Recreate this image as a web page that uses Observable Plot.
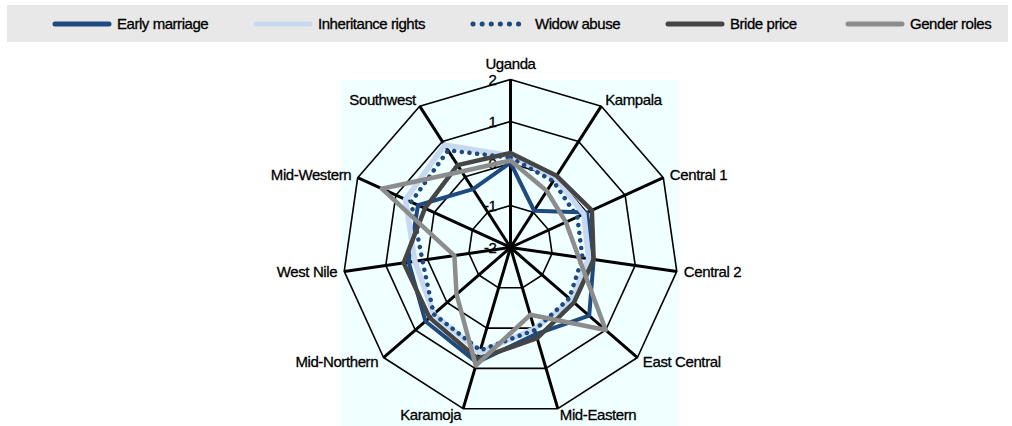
<!DOCTYPE html>
<html>
<head>
<meta charset="utf-8">
<script src="https://cdn.jsdelivr.net/npm/d3@7"></script>
<script src="https://cdn.jsdelivr.net/npm/@observablehq/plot@0.6"></script>
<style>
  html, body { margin: 0; padding: 0; background: #ffffff; }
  body { width: 1012px; height: 426px; overflow: hidden; font-family: "Liberation Sans", Arial, sans-serif; }
  #legend { position: relative; width: 1012px; height: 47px; }
  #legend .band { position: absolute; left: 7px; top: 5px; width: 1001px; height: 37px; background: #e8e8e8; }
  #legend .item { position: absolute; top: 5px; height: 37px; display: flex; align-items: center; font-size: 15px; letter-spacing: -0.45px; color: #000; -webkit-text-stroke: 0.3px #000; }
  #legend svg { display: block; margin-right: 5px; }
  #chart svg text { letter-spacing: -0.4px; stroke: #000; stroke-width: 0.3px; }
</style>
</head>
<body>
<div id="legend"><div class="band"></div></div>
<div id="chart"></div>
<script>
(function () {
// ---- data ----
const categories = ["Uganda", "Kampala", "Central 1", "Central 2", "East Central", "Mid-Eastern",
                    "Karamoja", "Mid-Northern", "West Nile", "Mid-Western", "Southwest"];
const seriesNames = ["Early marriage", "Inheritance rights", "Widow abuse", "Bride price", "Gender roles"];
const earlyMarriage     = [0.02, -0.96, 0.00, 0.00, 0.48, 0.15, 0.85, 0.68, 0.45, 0.42, -0.35];
const inheritanceRights = [0.18, -0.03, -0.08, -0.12, -0.08, 0.02, 0.60, 0.42, 0.30, 0.75, 0.90];
const widowAbuse        = [0.14, -0.12, -0.25, -0.27, -0.15, 0.05, 0.55, 0.42, 0.12, 0.60, 0.75];
const bridePrice        = [0.25, 0.03, 0.13, 0.00, 0.00, 0.25, 0.76, 0.55, 0.57, 0.24, 0.33];
const genderRoles       = [0.07, -0.40, -0.55, -0.36, 1.00, -0.33, 0.93, -0.30, -0.65, 1.37, 0.15];
const tickValues = [2, 1, 0, -1, -2];
const tickLabels = ["2", "1", "0", "-1", "-2"];
const axisMin = -2, axisMax = 2;

// ---- styles ----
const styles = [
  {stroke: "#1f4a7f", strokeWidth: 4},
  {stroke: "#c6d9f1", strokeWidth: 5.5},
  {stroke: "#1f4a7f", strokeWidth: 4.5, strokeDasharray: "0.1 7.6", strokeLinecap: "round"},
  {stroke: "#454545", strokeWidth: 4.5},
  {stroke: "#8c8c8c", strokeWidth: 4.5}
];
const seriesValues = [earlyMarriage, inheritanceRights, widowAbuse, bridePrice, genderRoles];

// ---- polar helpers (data space) ----
const n = categories.length;
const ang = i => i * 2 * Math.PI / n;
const rad = v => v - axisMin;
const px = (i, v) => rad(v) * Math.sin(ang(i));
const py = (i, v) => rad(v) * Math.cos(ang(i));

const seriesRows = seriesValues.map((vals, s) =>
  vals.map((v, i) => ({series: seriesNames[s], i, v, x: px(i, v), y: py(i, v)})));

const ringRows = [];
for (const lv of tickValues.filter(t => t > axisMin)) {
  categories.forEach((c, i) => ringRows.push({level: lv, x: px(i, lv), y: py(i, lv)}));
}
const spokeRows = categories.map((c, i) => ({x2: px(i, axisMax), y2: py(i, axisMax)}));
const labelOff = 0.17;
const labelRows = categories.map((c, i) => ({
  name: c, i,
  x: px(i, axisMax + labelOff),
  y: py(i, axisMax + labelOff)
}));
const tickRows = tickValues.map((t, k) => ({label: tickLabels[k], x: 0, y: rad(t)}));

// ---- layout ----
const W = 1012, H = 379;
const cx = 510, cy = 200, unit = 42;
const pLeft = 340, pRight = 679, pTop = 32, pBottom = 379;

const chart = Plot.plot({
  width: W, height: H,
  marginLeft: pLeft, marginRight: W - pRight, marginTop: pTop, marginBottom: H - pBottom,
  x: {domain: [(pLeft - cx) / unit, (pRight - cx) / unit], axis: null},
  y: {domain: [(cy - pBottom) / unit, (cy - pTop) / unit], axis: null},
  style: {fontFamily: "'Liberation Sans', Arial, sans-serif", fontSize: "15px", color: "#000", background: "transparent", overflow: "visible"},
  marks: [
    Plot.frame({fill: "#f0ffff", stroke: "none"}),
    Plot.text(tickRows, {x: "x", y: "y", text: "label", textAnchor: "end", dx: -14, dy: 1, fontSize: 15, fill: "#000"}),
    Plot.line(ringRows, {x: "x", y: "y", z: "level", curve: "linear-closed", stroke: "#000", strokeWidth: 1.6}),
    Plot.link(spokeRows, {x1: () => 0, y1: () => 0, x2: "x2", y2: "y2", stroke: "#000", strokeWidth: 3}),
    ...seriesRows.map((rows, s) => Plot.line(rows, {x: "x", y: "y", curve: "linear-closed", ...styles[s]})),
    Plot.text(labelRows.filter(d => d.i === 0), {x: "x", y: "y", text: "name", textAnchor: "middle", lineAnchor: "bottom", dy: -3, fill: "#000"}),
    Plot.text(labelRows.filter(d => d.i > 0 && d.i <= 5), {x: "x", y: "y", text: "name", textAnchor: "start", lineAnchor: "middle", fill: "#000"}),
    Plot.text(labelRows.filter(d => d.i > 5), {x: "x", y: "y", text: "name", textAnchor: "end", lineAnchor: "middle", fill: "#000"})
  ]
});
document.getElementById("chart").appendChild(chart);

// ---- legend ----
const legendX = [52, 253, 470, 665, 845];
const legend = document.getElementById("legend");
seriesNames.forEach((name, s) => {
  const item = document.createElement("div");
  item.className = "item";
  item.style.left = legendX[s] + "px";
  const st = styles[s];
  const dash = st.strokeDasharray ? `stroke-dasharray="0.1 9" ` : "";
  item.innerHTML = `<svg width="60" height="10"><line x1="3" y1="5" x2="57" y2="5" stroke="${st.stroke}" stroke-width="5" stroke-linecap="round" ${dash}/></svg><span>${name}</span>`;
  legend.appendChild(item);
});
})();
</script>
</body>
</html>
